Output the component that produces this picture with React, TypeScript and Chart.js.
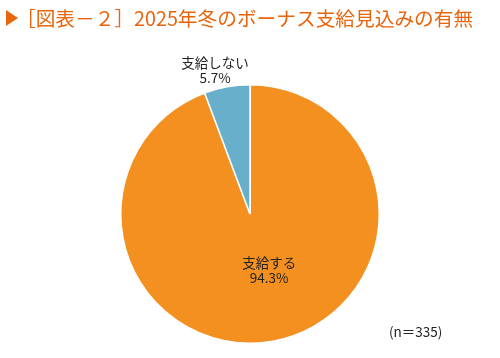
import React, { useEffect, useRef } from "react";
import { Chart, registerables } from "chart.js";

Chart.register(...registerables);

const titleText = "［図表－２］2025年冬のボーナス支給見込みの有無";
const categories = ["支給する", "支給しない"];
const values = [94.3, 5.7];
const valueLabels = ["94.3%", "5.7%"];
const sampleNote = "(n＝335)";
const colors = ["#F39020", "#67AFCB"];

const FONT = "'Noto Sans CJK JP', 'Noto Sans', sans-serif";

const decorPlugin = {
  id: "decor",
  afterDraw(chart: any) {
    const ctx = chart.ctx;
    ctx.save();
    // title triangle
    ctx.fillStyle = "#E9650C";
    ctx.beginPath();
    ctx.moveTo(6, 10);
    ctx.lineTo(18, 18);
    ctx.lineTo(6, 26);
    ctx.closePath();
    ctx.fill();
    ctx.font = `19.7px ${FONT}`;
    ctx.textAlign = "left";
    ctx.textBaseline = "middle";
    ctx.fillText(titleText, 16, 19);

    const meta = chart.getDatasetMeta(0);
    ctx.fillStyle = "#222";
    ctx.font = `13.5px ${FONT}`;
    ctx.textAlign = "center";
    ctx.textBaseline = "middle";
    meta.data.forEach((arc: any, i: number) => {
      const p = arc.getProps(["x", "y", "startAngle", "endAngle", "outerRadius"], true);
      const mid = (p.startAngle + p.endAngle) / 2;
      let r: number, dx: number;
      if (i === 0) {
        r = p.outerRadius * 0.44;
        dx = 9;
      } else {
        r = p.outerRadius * 1.13;
        dx = -9;
      }
      const cx = p.x + Math.cos(mid) * r + dx;
      const cy = p.y + Math.sin(mid) * r;
      ctx.fillText(categories[i], cx, cy - 7.5);
      ctx.fillText(valueLabels[i], cx, cy + 7.5);
    });

    ctx.textAlign = "left";
    ctx.font = `13.5px ${FONT}`;
    ctx.fillText(sampleNote, 389, 332);
    ctx.restore();
  },
};

export default function App() {
  const ref = useRef<HTMLCanvasElement>(null);
  useEffect(() => {
    document.body.style.margin = "0";
    const chart = new Chart(ref.current!, {
      type: "pie",
      data: {
        labels: categories,
        datasets: [
          {
            data: values,
            backgroundColor: colors,
            borderColor: "#ffffff",
            borderWidth: 1.5,
          },
        ],
      },
      options: {
        responsive: false,
        animation: false,
        layout: { padding: { left: 25, right: 25, top: 84, bottom: 14 } },
        plugins: {
          legend: { display: false },
          tooltip: { enabled: false },
          title: { display: false },
        },
      },
      plugins: [decorPlugin],
    });
    return () => chart.destroy();
  }, []);
  return <canvas ref={ref} width={500} height={358} style={{ display: "block" }} />;
}
